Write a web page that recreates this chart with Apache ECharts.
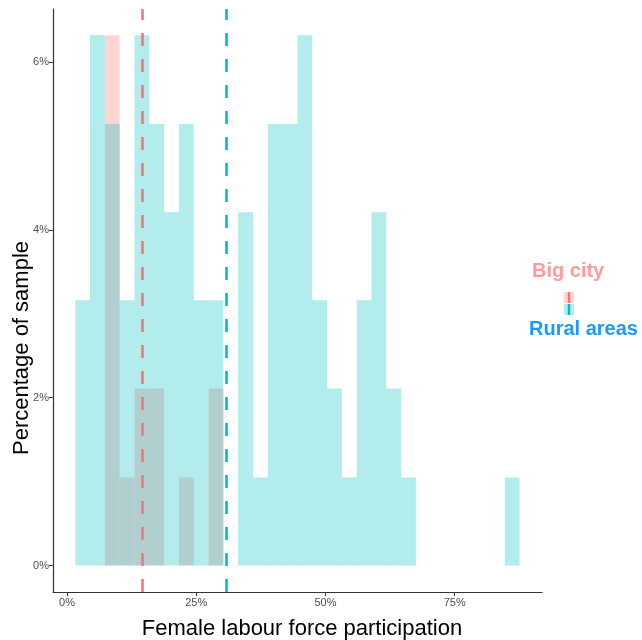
<!DOCTYPE html>
<html><head><meta charset="utf-8">
<script src="https://cdn.jsdelivr.net/npm/echarts@6/dist/echarts.min.js"></script>
<style>html,body{margin:0;padding:0;background:#fff}#c{width:642px;height:640px}</style>
</head><body><div id="c"></div>
<script>
// Histogram bins (percent of female labour force participation)
const binStart = 1.58;
const binWidth = 2.866;
// Percentage of sample per bin
const ruralPct   = [3.16,6.32,5.26,3.16,6.32,5.26,4.21,5.26,3.16,3.16,0,4.21,1.05,5.26,5.26,6.32,3.16,2.11,1.05,3.16,4.21,2.11,1.05,0,0,0,0,0,0,1.05];
const bigCityPct = [0,0,6.32,1.05,2.11,2.11,0,1.05,0,2.11,0,0,0,0,0,0,0,0,0,0,0,0,0,0,0,0,0,0,0,0];
// Group means
const meanBigCity = 14.5;
const meanRural = 30.8;
// Tick values
const xTicks = [0,25,50,75];
const yTicks = [0,2,4,6];

const toData = arr => arr.map((v,i)=>[binStart+i*binWidth, binStart+(i+1)*binWidth, v]);

function makeRender(fill){
  return function(params, api){
    const x0 = api.value(0), x1 = api.value(1), y = api.value(2);
    if (!y) return null;
    const p0 = api.coord([x0, 0]);
    const p1 = api.coord([x1, y]);
    return {type:'rect', shape:{x:p0[0], y:p1[1], width:p1[0]-p0[0], height:p0[1]-p1[1]}, style:{fill:fill}};
  };
}

const chart = echarts.init(document.getElementById('c'), null, {renderer:'canvas'});
const tickColor = '#4D4D4D';
chart.setOption({
  animation:false,
  backgroundColor:'#fff',
  grid:{left:53, right:100, top:9, bottom:48},
  xAxis:{
    type:'value', min:-2.72, max:91.9,
    axisLine:{show:true, onZero:false, lineStyle:{color:'#333', width:1.2}},
    axisTick:{show:true, length:4, customValues:xTicks, lineStyle:{color:'#333'}},
    axisLabel:{customValues:xTicks, formatter:v=>v+'%', color:tickColor, fontSize:11, fontFamily:'Liberation Sans', margin:5},
    splitLine:{show:false}
  },
  yAxis:{
    type:'value', min:-0.316, max:6.632,
    axisLine:{show:true, onZero:false, lineStyle:{color:'#333', width:1.2}},
    axisTick:{show:true, length:4, customValues:yTicks, lineStyle:{color:'#333'}},
    axisLabel:{customValues:yTicks, formatter:v=>v+'%', color:tickColor, fontSize:11, fontFamily:'Liberation Sans', margin:4},
    splitLine:{show:false}
  },
  series:[
    {type:'custom', name:'Big city', renderItem:makeRender('rgba(248,118,109,0.3)'), encode:{x:[0,1], y:2}, data:toData(bigCityPct), z:2},
    {type:'custom', name:'Rural areas', renderItem:makeRender('rgba(0,191,196,0.3)'), encode:{x:[0,1], y:2}, data:toData(ruralPct), z:3},
    {type:'line', data:[], z:5, markLine:{silent:true, symbol:['none','none'], label:{show:false},
      lineStyle:{color:'#F8766D', width:2.6, type:[13,13]}, data:[{xAxis:meanBigCity}]}},
    {type:'line', data:[], z:5, markLine:{silent:true, symbol:['none','none'], label:{show:false},
      lineStyle:{color:'#00BFC4', width:2.6, type:[13,13]}, data:[{xAxis:meanRural}]}}
  ],
  graphic:[
    {type:'text', x:22, y:348, rotation:Math.PI/2, style:{text:'Percentage of sample', fontSize:22, fontFamily:'Liberation Sans', fill:'#000', align:'center', verticalAlign:'middle'}},
    {type:'text', x:302, y:629, style:{text:'Female labour force participation', fontSize:22, fontFamily:'Liberation Sans', fill:'#000', align:'center', verticalAlign:'middle'}},
    {type:'text', x:532, y:271, style:{text:'Big city', fontSize:20, fontWeight:'bold', fontFamily:'Liberation Sans', fill:'#FF9B9B', align:'left', verticalAlign:'middle'}},
    {type:'text', x:529, y:329, style:{text:'Rural areas', fontSize:20, fontWeight:'bold', fontFamily:'Liberation Sans', fill:'#1A9BF8', align:'left', verticalAlign:'middle'}},
    {type:'rect', shape:{x:564, y:292, width:10, height:11}, style:{fill:'rgba(248,118,109,0.3)'}},
    {type:'rect', shape:{x:564, y:304, width:10, height:11}, style:{fill:'rgba(0,191,196,0.3)'}},
    {type:'line', shape:{x1:569, y1:292, x2:569, y2:303}, style:{stroke:'#F8766D', lineWidth:2.4}},
    {type:'line', shape:{x1:569, y1:304, x2:569, y2:315}, style:{stroke:'#00BFC4', lineWidth:2.4}}
  ]
});
</script>
</body></html>
